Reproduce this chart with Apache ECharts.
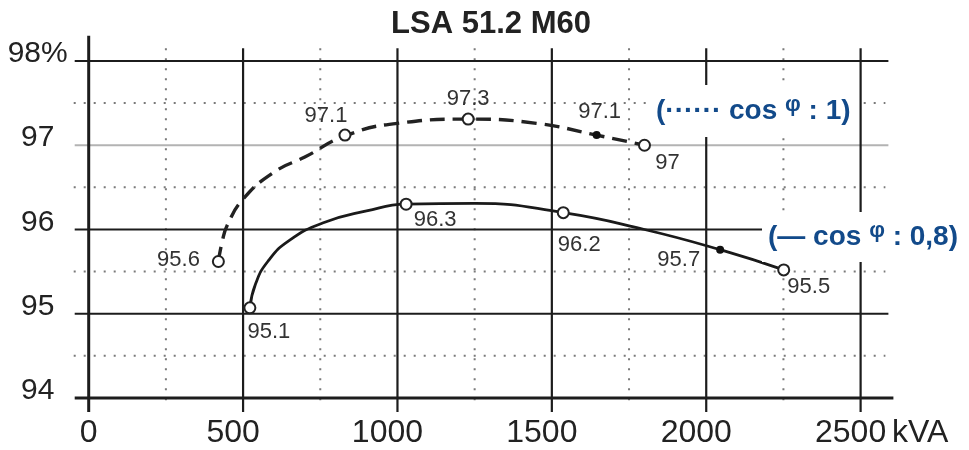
<!DOCTYPE html>
<html><head><meta charset="utf-8">
<script src="https://cdn.jsdelivr.net/npm/echarts@6/dist/echarts.min.js"></script>
<style>html,body{margin:0;padding:0;background:#fff}#c{width:969px;height:450px}</style>
</head><body><div id="c"></div>
<script>
// ---------- data ----------
const chartTitle = 'LSA 51.2 M60';
const xTickLabels = [0, 500, 1000, 1500, 2000, 2500];
const xUnit = 'kVA';
const yTickLabels = [94, 95, 96, 97, 98];
const yTopLabel = '98%';

// grid line values
const xMajor = [500, 1000, 1500, 2000, 2500];
const xMinor = [250, 750, 1250, 1750, 2250];
const yMajor = [95, 96, 98];
const yGray = [97];
const yMinor = [94.5, 95.5, 96.5, 97.5];

// cos phi = 1 (dashed) curve
const pf1Curve = [[420,95.62],[432,95.85],[450,96.06],[500,96.36],[600,96.68],[700,96.86],[830,97.11],[1000,97.26],[1229,97.31],[1450,97.26],[1645,97.12],[1800,97.0]];
const pf1Open = [[420,95.62],[830,97.12],[1229,97.31],[1800,97.0]];
const pf1OpenLabels = ['95.6','97.1','97.3','97'];
const pf1Filled = [[1645,97.12]];
const pf1FilledLabels = ['97.1'];

// cos phi = 0.8 (solid) curve
const pf08Curve = [[522,95.07],[540,95.35],[580,95.62],[650,95.87],[760,96.08],[900,96.22],[1028,96.30],[1250,96.31],[1537,96.20],[1800,96.0],[2045,95.76],[2251,95.52]];
const pf08Open = [[522,95.07],[1028,96.30],[1537,96.20],[2251,95.52]];
const pf08OpenLabels = ['95.1','96.3','96.2','95.5'];
const pf08Filled = [[2045,95.76]];
const pf08FilledLabels = ['95.7'];

const note1 = ['(······ cos ', 'φ', ' : 1)'];
const note2 = ['(— cos ', 'φ', ' : 0,8)'];

// ---------- styles ----------
const X_MIN = 0, X_MAX = 2590, Y_MIN = 94, Y_MAX = 98.3;
const GRID_TOP_VAL = 98.15;
const FONT = "'Liberation Sans', Arial, sans-serif";
const INK = '#1c1c1c';
const BLUE = '#124a8a';

const pf1OpenLayout = [
  {position:'left', distance:12, offset:[0,-2]},
  {position:'top', distance:2, offset:[-19,0]},
  {position:'top', distance:3, offset:[0,0]},
  {position:'bottom', distance:0, offset:[23,0]}
];
const pf1FilledLayout = [{position:'top', distance:8, offset:[3,0]}];
const pf08OpenLayout = [
  {position:'bottom', distance:7, offset:[19,0]},
  {position:'bottom', distance:0, offset:[29,-2]},
  {position:'bottom', distance:15, offset:[16,0]},
  {position:'bottom', distance:0, offset:[25,0]}
];
const pf08FilledLayout = [{position:'left', distance:16, offset:[0,10]}];

function points(values, labels, layout) {
  return values.map((v, i) => ({ value: v, label: Object.assign({ formatter: labels[i] }, layout[i]) }));
}

function vLines(style, topVal, extBottom) {
  return function (params, api) {
    const v = api.value(0);
    const p1 = api.coord([v, topVal]);
    const p2 = api.coord([v, Y_MIN]);
    return { type: 'line', shape: { x1: p1[0], y1: p1[1], x2: p2[0], y2: p2[1] + extBottom }, style: style };
  };
}
function hLines(style, extLeft, extRight) {
  return function (params, api) {
    const v = api.value(1);
    const p1 = api.coord([X_MIN, v]);
    const p2 = api.coord([X_MAX, v]);
    return { type: 'line', shape: { x1: p1[0] - extLeft, y1: p1[1], x2: p2[0] + extRight, y2: p2[1] }, style: style };
  };
}
const solid = { stroke: INK, lineWidth: 2.2 };
const dotted = { stroke: '#7a7a7a', lineWidth: 2, lineDash: [2, 8] };
const gray = { stroke: '#b3b3b3', lineWidth: 2.2 };
const axisStyle = { stroke: INK, lineWidth: 3 };

function gridSeries(data, render, z) {
  return { type: 'custom', silent: true, z: z || 1, clip: false, encode: { x: 0, y: 1 }, data: data, renderItem: render, tooltip: { show: false } };
}

const chart = echarts.init(document.getElementById('c'), null, { renderer: 'canvas' });
chart.setOption({
  animation: false,
  backgroundColor: '#fff',
  title: {
    text: chartTitle, left: 491, top: 9, padding: 0, textAlign: 'center',
    textStyle: { fontFamily: FONT, fontSize: 31, fontWeight: 'bold', color: '#222' }
  },
  grid: { left: 88.7, right: 80.6, top: 35.7, bottom: 52, containLabel: false },
  xAxis: {
    type: 'value', min: X_MIN, max: X_MAX, interval: 500,
    axisLine: { show: false }, axisTick: { show: false }, splitLine: { show: false },
    name: xUnit, nameLocation: 'end', nameGap: 1,
    nameTextStyle: { fontFamily: FONT, fontSize: 32, color: '#222', verticalAlign: 'top', align: 'left', padding: [19, 0, 0, 0] },
    axisLabel: {
      fontFamily: FONT, fontSize: 32, color: '#222', margin: 19, padding: [0, 20, 0, 0],
      showMaxLabel: false,
      formatter: v => xTickLabels.includes(v) ? (v === 0 ? '{z|0}' : String(v)) : '',
      rich: { z: { fontFamily: FONT, fontSize: 32, color: '#222', padding: [0, 0, 0, 20] } }
    }
  },
  yAxis: {
    type: 'value', min: Y_MIN, max: Y_MAX, interval: 1,
    axisLine: { show: false }, axisTick: { show: false }, splitLine: { show: false },
    axisLabel: {
      fontFamily: FONT, fontSize: 30, color: '#222', margin: 51, align: 'center',
      verticalAlign: 'bottom', lineHeight: 14,
      showMaxLabel: false,
      formatter: v => yTickLabels.includes(v) ? (v === 98 ? yTopLabel : String(v)) : ''
    }
  },
  graphic: [
    {
      type: 'text', x: 650, y: 111, z: 100,
      style: {
        text: '{a|' + note1[0] + '}{b|' + note1[1] + '}{a|' + note1[2] + '}',
        align: 'left', verticalAlign: 'middle', backgroundColor: '#fff', padding: [9, 8, 9, 6],
        rich: {
          a: { fontFamily: FONT, fontSize: 28, fontWeight: 'bold', fill: BLUE, lineHeight: 34 },
          b: { fontFamily: FONT, fontSize: 22, fontWeight: 'bold', fill: BLUE, lineHeight: 32, verticalAlign: 'top' }
        }
      }
    },
    {
      type: 'text', x: 762, y: 237, z: 100,
      style: {
        text: '{a|' + note2[0] + '}{b|' + note2[1] + '}{a|' + note2[2] + '}',
        align: 'left', verticalAlign: 'middle', backgroundColor: '#fff', padding: [8, 6, 8, 6],
        rich: {
          a: { fontFamily: FONT, fontSize: 28, fontWeight: 'bold', fill: BLUE, lineHeight: 34 },
          b: { fontFamily: FONT, fontSize: 22, fontWeight: 'bold', fill: BLUE, lineHeight: 32, verticalAlign: 'top' }
        }
      }
    }
  ],
  series: [
    gridSeries(xMinor.map(v => [v, Y_MIN]), vLines(dotted, GRID_TOP_VAL, 10)),
    gridSeries(yMinor.map(v => [X_MIN, v]), hLines(dotted, 15, -3)),
    gridSeries(yGray.map(v => [X_MIN, v]), hLines(gray, 14, 0)),
    gridSeries(xMajor.map(v => [v, Y_MIN]), vLines(solid, GRID_TOP_VAL, 14), 2),
    gridSeries(yMajor.map(v => [X_MIN, v]), hLines(solid, 14, 0), 2),
    gridSeries([[X_MIN, Y_MIN]], vLines(axisStyle, Y_MAX, 14), 2),
    gridSeries([[X_MIN, Y_MIN]], hLines(axisStyle, 14, 5), 2),
    {
      name: 'cos φ : 1', type: 'line', data: pf1Curve, smooth: 0.5,
      showSymbol: false, z: 3, silent: true,
      lineStyle: { color: '#222', width: 3.4, type: [15, 8] }
    },
    {
      name: 'cos φ : 0,8', type: 'line', data: pf08Curve, smooth: 0.5,
      showSymbol: false, z: 3, silent: true,
      lineStyle: { color: '#1a1a1a', width: 2.8 }
    },
    {
      type: 'scatter', z: 5, symbol: 'circle', symbolSize: 11,
      itemStyle: { color: '#fff', borderColor: '#222', borderWidth: 2, opacity: 1 },
      label: { show: true, fontFamily: FONT, fontSize: 22, color: '#333' },
      data: points(pf1Open, pf1OpenLabels, pf1OpenLayout).concat(points(pf08Open, pf08OpenLabels, pf08OpenLayout))
    },
    {
      type: 'scatter', z: 5, symbol: 'circle', symbolSize: 8,
      itemStyle: { color: '#111', opacity: 1 },
      label: { show: true, fontFamily: FONT, fontSize: 22, color: '#333' },
      data: points(pf1Filled, pf1FilledLabels, pf1FilledLayout).concat(points(pf08Filled, pf08FilledLabels, pf08FilledLayout))
    }
  ]
});
</script>
</body></html>
